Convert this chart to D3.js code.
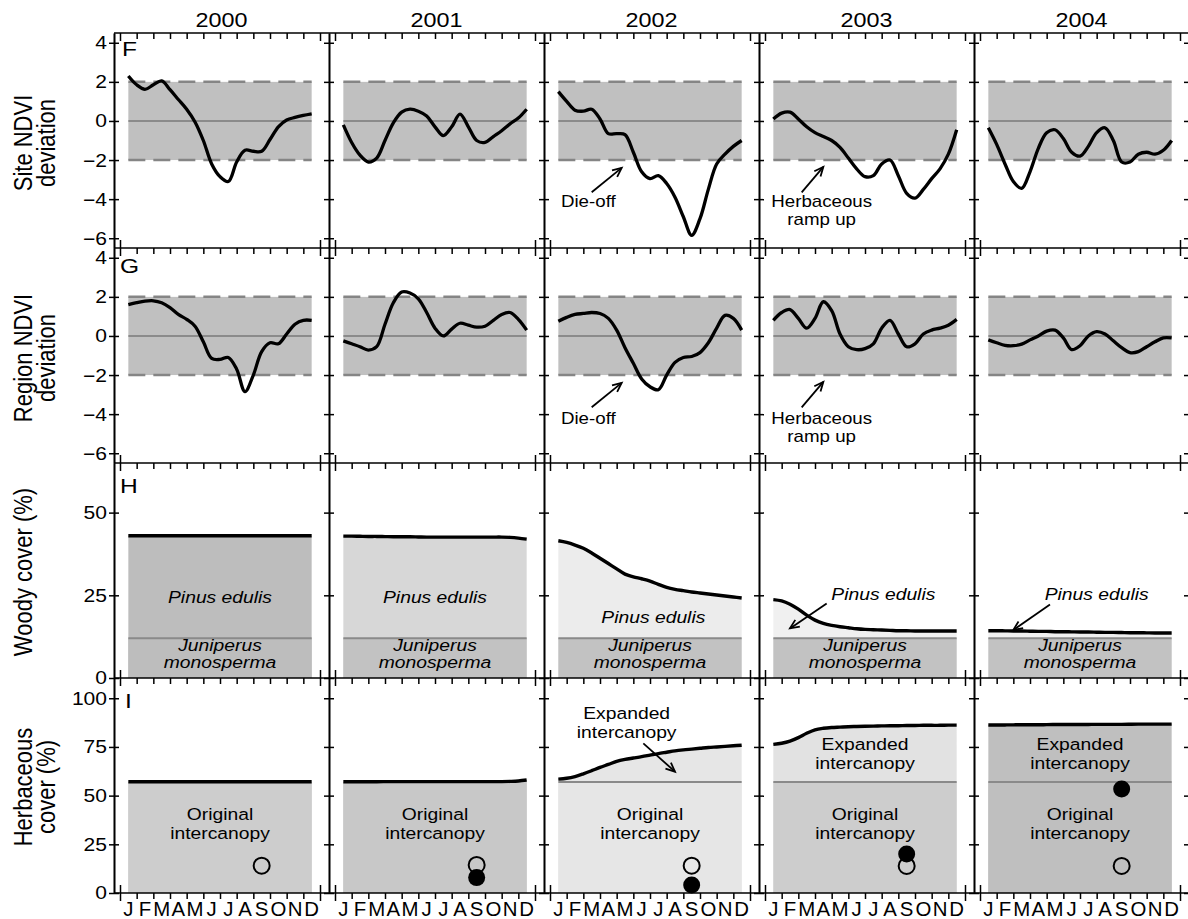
<!DOCTYPE html>
<html>
<head>
<meta charset="utf-8">
<script src="https://cdn.jsdelivr.net/npm/d3@7"></script>
<style>
  body { margin: 0; background: #fff; }
  text { font-family: "Liberation Sans", Arial, Helvetica, sans-serif; fill: #000; }
</style>
</head>
<body>
<svg id="chart" width="1188" height="919"></svg>
<script>
/*
  NDVI deviation and vegetation cover, 2000-2004
*/

var years = ["2000", "2001", "2002", "2003", "2004"],
    monthLetters = ["J", "F", "M", "A", "M", "J", "J", "A", "S", "O", "N", "D"],
    sampleMonths = [0.5, 1, 1.5, 2, 2.5, 3, 3.5, 4, 4.5, 5, 5.5, 6, 6.5, 7, 7.5, 8, 8.5, 9, 9.5, 10, 10.5, 11, 11.5],
    ndviTicks = [4, 2, 0, -2, -4, -6],
    woodyTicks = [0, 25, 50],
    herbTicks = [0, 25, 50, 75, 100];

// site NDVI deviation, one array per year (half-month samples)
var siteNdvi = [
  [2.3, 1.85, 1.62, 1.85, 2.05, 1.6, 1.1, 0.6, -0.05, -1.0, -2.2, -2.85, -3.1, -2.1, -1.5, -1.55, -1.55, -0.95, -0.3, 0.05, 0.18, 0.28, 0.36],
  [-0.2, -1.1, -1.75, -2.1, -1.9, -1.0, -0.1, 0.45, 0.6, 0.5, 0.25, -0.3, -0.75, -0.3, 0.35, -0.3, -1.0, -1.1, -0.8, -0.5, -0.15, 0.15, 0.6],
  [1.5, 1.0, 0.55, 0.5, 0.6, 0.1, -0.65, -0.65, -0.7, -1.6, -2.6, -2.95, -2.8, -3.2, -3.9, -4.9, -5.85, -5.0, -3.5, -2.2, -1.7, -1.3, -1.0],
  [0.1, 0.4, 0.45, 0.1, -0.3, -0.6, -0.8, -1.0, -1.35, -1.9, -2.45, -2.85, -2.8, -2.2, -2.0, -2.8, -3.7, -3.95, -3.5, -2.95, -2.45, -1.7, -0.45],
  [-0.35, -1.2, -2.2, -3.1, -3.45, -2.6, -1.4, -0.6, -0.45, -0.9, -1.6, -1.8, -1.3, -0.6, -0.35, -1.0, -2.1, -2.1, -1.7, -1.6, -1.7, -1.5, -1.0]
];

// regional NDVI deviation
var regionNdvi = [
  [1.6, 1.7, 1.78, 1.8, 1.7, 1.45, 1.1, 0.85, 0.5, -0.3, -1.15, -1.2, -1.1, -1.7, -2.85, -2.0, -0.8, -0.35, -0.4, 0.1, 0.6, 0.8, 0.8],
  [-0.25, -0.4, -0.55, -0.72, -0.55, 0.6, 1.7, 2.25, 2.2, 1.9, 1.2, 0.4, 0.0, 0.35, 0.65, 0.55, 0.45, 0.5, 0.8, 1.1, 1.2, 0.85, 0.3],
  [0.75, 0.95, 1.1, 1.15, 1.2, 1.15, 0.9, 0.3, -0.6, -1.4, -2.2, -2.6, -2.75, -2.0, -1.35, -1.1, -1.05, -0.85, -0.35, 0.4, 1.05, 0.9, 0.3],
  [0.8, 1.2, 1.35, 0.9, 0.4, 0.9, 1.75, 1.3, 0.1, -0.55, -0.7, -0.65, -0.4, 0.4, 0.8, 0.1, -0.55, -0.4, 0.1, 0.3, 0.4, 0.55, 0.85],
  [-0.2, -0.35, -0.48, -0.5, -0.42, -0.2, 0.0, 0.25, 0.3, -0.1, -0.7, -0.5, 0.0, 0.22, 0.1, -0.25, -0.6, -0.85, -0.8, -0.55, -0.3, -0.1, -0.1]
];

// woody cover (%): total (Pinus + Juniperus), Juniperus share is constant
var woodyTotal = [
  [43, 43, 43, 43, 43, 43, 43, 43, 43, 43, 43, 43, 43, 43, 43, 43, 43, 43, 43, 43, 43, 43, 43],
  [42.9, 42.9, 42.85, 42.8, 42.8, 42.75, 42.7, 42.7, 42.7, 42.65, 42.6, 42.6, 42.6, 42.6, 42.6, 42.6, 42.6, 42.6, 42.6, 42.6, 42.5, 42.3, 42.0],
  [41.5, 41.0, 40.2, 39.2, 37.8, 36.2, 34.6, 33.0, 31.4, 30.6, 30.0, 29.3, 28.3, 27.4, 26.8, 26.4, 26.0, 25.7, 25.4, 25.1, 24.8, 24.5, 24.2],
  [23.7, 23.3, 22.3, 20.8, 19.0, 17.5, 16.5, 15.9, 15.5, 15.2, 14.9, 14.7, 14.6, 14.5, 14.4, 14.3, 14.3, 14.2, 14.2, 14.2, 14.2, 14.2, 14.2],
  [14.3, 14.3, 14.25, 14.2, 14.2, 14.15, 14.1, 14.1, 14.0, 14.0, 13.95, 13.9, 13.9, 13.85, 13.8, 13.8, 13.75, 13.7, 13.7, 13.65, 13.6, 13.6, 13.6]
];
var juniperCover = 12;

// herbaceous cover (%): total intercanopy, original intercanopy level
var herbTotal = [
  [57.1, 57.1, 57.1, 57.1, 57.1, 57.1, 57.1, 57.1, 57.1, 57.1, 57.1, 57.1, 57.1, 57.1, 57.1, 57.1, 57.1, 57.1, 57.1, 57.1, 57.1, 57.1, 57.1],
  [57.1, 57.1, 57.1, 57.1, 57.15, 57.2, 57.2, 57.2, 57.2, 57.2, 57.2, 57.2, 57.2, 57.2, 57.2, 57.2, 57.2, 57.2, 57.2, 57.2, 57.3, 57.5, 58.0],
  [58.5, 58.9, 59.8, 61.2, 62.8, 64.5, 66.0, 67.6, 68.6, 69.3, 70.0, 70.8, 71.6, 72.3, 73.0, 73.5, 73.9, 74.3, 74.7, 75.0, 75.3, 75.6, 75.9],
  [76.3, 76.9, 78.0, 79.8, 82.0, 83.8, 84.6, 85.0, 85.2, 85.4, 85.5, 85.6, 85.7, 85.8, 85.9, 85.9, 86.0, 86.0, 86.1, 86.1, 86.1, 86.2, 86.2],
  [86.3, 86.3, 86.3, 86.35, 86.4, 86.4, 86.4, 86.45, 86.5, 86.5, 86.5, 86.5, 86.55, 86.6, 86.6, 86.6, 86.6, 86.65, 86.7, 86.7, 86.7, 86.7, 86.7]
];
var originalIntercanopy = 57;

// measured herbaceous cover (points, late August)
var sampleMonth = 8.5,
    openCover = [14, 14.4, 14, 13.9, 13.9],
    filledCover = [null, 7.9, 4.1, 20, 53.4];

// fills by year
var pinusFill = ["#bdbdbd", "#d7d7d7", "#ececec", "#f0f0f0", "#f0f0f0"],
    juniperFill = ["#bdbdbd", "#c2c2c2", "#c2c2c2", "#c2c2c2", "#c2c2c2"],
    originalFill = ["#cdcdcd", "#c8c8c8", "#e6e6e6", "#cdcdcd", "#bfbfbf"],
    expandedFill = ["#cdcdcd", "#c8c8c8", "#e6e6e6", "#e2e2e2", "#bfbfbf"];

var svg = d3.select("#chart"),
    plotLeft = 114,
    plotTop = 33,
    colW = 215,
    rowH = 215,
    SX = 1.17;

var xs = years.map(function(d, i){
  return d3.scaleLinear().domain([0, 12]).range([plotLeft + i * colW + 6, plotLeft + i * colW + 206]);
});

var yF = d3.scaleLinear().domain([-6.5, 4.5]).range([plotTop + rowH, plotTop]),
    yG = d3.scaleLinear().domain([-6.5, 4.5]).range([plotTop + 2 * rowH, plotTop + rowH]),
    yH = d3.scaleLinear().domain([0, 65]).range([plotTop + 3 * rowH, plotTop + 2 * rowH]),
    yI = d3.scaleLinear().domain([0, 110.4]).range([plotTop + 4 * rowH, plotTop + 3 * rowH]);

function label(g, x, y, str, size, opts){
  opts = opts || {};
  var tr = "translate(" + x + "," + y + ") scale(" + (opts.sx || SX) + ",1)" + (opts.rot ? " rotate(-90)" : "");
  return g.append("text")
    .attr("transform", tr)
    .attr("text-anchor", opts.anchor || "middle")
    .attr("dy", opts.dy || 0)
    .style("font-size", size + "px")
    .style("font-style", opts.italic ? "italic" : "normal")
    .text(str);
}

function arrow(g, x1, y1, x2, y2){
  var a = Math.atan2(y2 - y1, x2 - x1), len = 10, sp = 0.42;
  g.append("line").attr("x1", x1).attr("y1", y1).attr("x2", x2).attr("y2", y2)
    .attr("stroke", "#000").attr("stroke-width", 1.8);
  g.append("path")
    .attr("d", "M" + (x2 - len * Math.cos(a - sp)) + "," + (y2 - len * Math.sin(a - sp)) +
      "L" + x2 + "," + y2 +
      "L" + (x2 - len * Math.cos(a + sp)) + "," + (y2 - len * Math.sin(a + sp)))
    .attr("fill", "none").attr("stroke", "#000").attr("stroke-width", 1.8);
}

function curveLine(x, y){
  return d3.line()
    .x(function(d, k){ return x(sampleMonths[k]); })
    .y(function(d){ return y(d); })
    .curve(d3.curveCatmullRom);
}

function curveArea(x, y, base){
  return d3.area()
    .x(function(d, k){ return x(sampleMonths[k]); })
    .y0(y(base))
    .y1(function(d){ return y(d); })
    .curve(d3.curveCatmullRom);
}

var plot = svg.append("g");

// NDVI rows
[[siteNdvi, yF], [regionNdvi, yG]].forEach(function(row){
  var series = row[0], y = row[1];
  years.forEach(function(yr, i){
    var x = xs[i];
    plot.append("rect")
      .attr("x", x(0.5)).attr("width", x(11.5) - x(0.5))
      .attr("y", y(2)).attr("height", y(-2) - y(2))
      .attr("fill", "#c0c0c0");
    [2, -2].forEach(function(v){
      plot.append("line")
        .attr("x1", x(0.5)).attr("x2", x(11.5)).attr("y1", y(v)).attr("y2", y(v))
        .attr("stroke", "#858585").attr("stroke-width", 2.5).attr("stroke-dasharray", "17,8");
    });
    plot.append("line")
      .attr("x1", x(0.5)).attr("x2", x(11.5)).attr("y1", y(0)).attr("y2", y(0))
      .attr("stroke", "#7a7a7a").attr("stroke-width", 1.6);
    plot.append("path").datum(series[i])
      .attr("d", curveLine(x, y))
      .attr("fill", "none").attr("stroke", "#000").attr("stroke-width", 3.3).attr("stroke-linejoin", "round");
  });
});

// Woody cover row
years.forEach(function(yr, i){
  var x = xs[i];
  plot.append("path").datum(woodyTotal[i]).attr("d", curveArea(x, yH, 0)).attr("fill", pinusFill[i]);
  plot.append("rect")
    .attr("x", x(0.5)).attr("width", x(11.5) - x(0.5))
    .attr("y", yH(juniperCover)).attr("height", yH(0) - yH(juniperCover))
    .attr("fill", juniperFill[i]);
  plot.append("line")
    .attr("x1", x(0.5)).attr("x2", x(11.5)).attr("y1", yH(juniperCover)).attr("y2", yH(juniperCover))
    .attr("stroke", "#8a8a8a").attr("stroke-width", 2);
  plot.append("path").datum(woodyTotal[i])
    .attr("d", curveLine(x, yH))
    .attr("fill", "none").attr("stroke", "#000").attr("stroke-width", 3.4);
});

// Herbaceous cover row
years.forEach(function(yr, i){
  var x = xs[i];
  plot.append("path").datum(herbTotal[i]).attr("d", curveArea(x, yI, 0)).attr("fill", expandedFill[i]);
  plot.append("rect")
    .attr("x", x(0.5)).attr("width", x(11.5) - x(0.5))
    .attr("y", yI(originalIntercanopy)).attr("height", yI(0) - yI(originalIntercanopy))
    .attr("fill", originalFill[i]);
  if(i >= 2){
    plot.append("line")
      .attr("x1", x(0.5)).attr("x2", x(11.5)).attr("y1", yI(originalIntercanopy)).attr("y2", yI(originalIntercanopy))
      .attr("stroke", "#8a8a8a").attr("stroke-width", 2);
  }
  plot.append("path").datum(herbTotal[i])
    .attr("d", curveLine(x, yI))
    .attr("fill", "none").attr("stroke", "#000").attr("stroke-width", 3.4);
  plot.append("circle")
    .attr("cx", x(sampleMonth)).attr("cy", yI(openCover[i])).attr("r", 8)
    .attr("fill", "none").attr("stroke", "#000").attr("stroke-width", 2);
  if(filledCover[i] !== null){
    plot.append("circle")
      .attr("cx", x(sampleMonth)).attr("cy", yI(filledCover[i])).attr("r", 8.5)
      .attr("fill", "#000");
  }
});

// frame: vertical lines with crossing y ticks
var rows = [[yF, ndviTicks], [yG, ndviTicks], [yH, woodyTicks], [yI, herbTicks]];
d3.range(6).forEach(function(c){
  var xPos = plotLeft + c * colW;
  rows.forEach(function(r){
    svg.append("g").attr("class", "vaxis").attr("transform", "translate(" + xPos + ",0)")
      .call(d3.axisLeft(r[0]).tickValues(r[1]).tickSize(5).tickSizeOuter(0).tickFormat(""));
    svg.append("g").attr("class", "vaxis").attr("transform", "translate(" + xPos + ",0)")
      .call(d3.axisRight(r[0]).tickValues(r[1]).tickSize(5).tickSizeOuter(0).tickFormat(""));
  });
});

// frame: horizontal lines with month ticks
d3.range(5).forEach(function(r){
  var yPos = plotTop + r * rowH;
  svg.append("line")
    .attr("x1", plotLeft).attr("x2", plotLeft + 5 * colW).attr("y1", yPos).attr("y2", yPos)
    .attr("stroke", "#000").attr("stroke-width", 1.6);
  years.forEach(function(yr, i){
    svg.append("g").attr("class", "haxis").attr("transform", "translate(0," + yPos + ")")
      .call(d3.axisBottom(xs[i]).tickValues(d3.range(1, 12)).tickSize(6).tickSizeOuter(0).tickFormat(""));
    svg.append("g").attr("class", "haxis").attr("transform", "translate(0," + yPos + ")")
      .call(d3.axisBottom(xs[i]).tickValues([0, 12]).tickSize(8).tickSizeOuter(0).tickFormat(""));
    if(r > 0){
      svg.append("g").attr("class", "haxis").attr("transform", "translate(0," + yPos + ")")
        .call(d3.axisTop(xs[i]).tickValues([0, 12]).tickSize(8).tickSizeOuter(0).tickFormat(""));
    }
  });
});
svg.selectAll(".haxis .domain").remove();
svg.selectAll(".vaxis .domain").attr("stroke-width", 1.6);
svg.selectAll(".tick line").attr("stroke-width", 1.5);

// y tick labels
var tickLab = svg.append("g");
rows.forEach(function(r){
  r[1].forEach(function(v){
    label(tickLab, plotLeft - 7, r[0](v), v < 0 ? "\u2212" + Math.abs(v) : String(v), 18, {anchor: "end", dy: "0.36em"});
  });
});

// year titles
years.forEach(function(yr, i){
  label(svg, plotLeft + i * colW + colW / 2, 27, yr, 20);
});

// month letters
years.forEach(function(yr, i){
  monthLetters.forEach(function(m, k){
    label(svg, xs[i](k + 0.5), 916, m, 20, {sx: 1.02});
  });
});

// row titles
label(svg, 32, 143, "Site NDVI", 22, {rot: true});
label(svg, 55, 143, "deviation", 22, {rot: true});
label(svg, 32, 358, "Region NDVI", 22, {rot: true});
label(svg, 55, 358, "deviation", 22, {rot: true});
label(svg, 32, 572, "Woody cover (%)", 22, {rot: true});
label(svg, 32, 787, "Herbaceous", 22, {rot: true});
label(svg, 55, 787, "cover (%)", 22, {rot: true});

// panel letters
label(svg, 122, yF(3.3), "F", 21, {anchor: "start"});
label(svg, 120, yG(3.2), "G", 21, {anchor: "start"});
label(svg, 120, yH(56), "H", 21, {anchor: "start"});
label(svg, 125, yI(95), "I", 21, {anchor: "start"});

// annotations
var ann = svg.append("g");
[[yF, -4.4], [yG, -4.5]].forEach(function(r){
  var y = r[0], base = r[1];
  label(ann, xs[2](2.3), y(base), "Die-off", 16);
  arrow(ann, xs[2](2.5), y(-3.65), xs[2](4.3), y(-2.4));
  label(ann, xs[3](3.4), y(base), "Herbaceous", 16);
  label(ann, xs[3](3.4), y(base) + 18, "ramp up", 16);
  arrow(ann, xs[3](2.2), y(-3.65), xs[3](3.5), y(-2.35));
});

[0, 1].forEach(function(i){
  label(ann, xs[i](6), yH(22.6), "Pinus edulis", 16.5, {italic: true});
});
label(ann, xs[2](6.2), yH(16.6), "Pinus edulis", 16.5, {italic: true});
label(ann, xs[3](7.1), yH(23.5), "Pinus edulis", 16.5, {italic: true});
arrow(ann, xs[3](3.7), yH(22.5), xs[3](1.5), yH(15.0));
label(ann, xs[4](7.0), yH(23.5), "Pinus edulis", 16.5, {italic: true});
arrow(ann, xs[4](4.2), yH(22.2), xs[4](2.0), yH(14.5));
years.forEach(function(yr, i){
  label(ann, xs[i](6), yH(8.1), "Juniperus", 16.5, {italic: true});
  label(ann, xs[i](6), yH(3.0), "monosperma", 16.5, {italic: true});
  label(ann, xs[i](6), yI(37.5), "Original", 16.5);
  label(ann, xs[i](6), yI(27.8), "intercanopy", 16.5);
});
label(ann, xs[2](4.6), yI(89.5), "Expanded", 16.5);
label(ann, xs[2](4.6), yI(79.8), "intercanopy", 16.5);
arrow(ann, xs[2](5.6), yI(76.8), xs[2](7.5), yI(62.3));
[3, 4].forEach(function(i){
  label(ann, xs[i](6), yI(73.4), "Expanded", 16.5);
  label(ann, xs[i](6), yI(63.7), "intercanopy", 16.5);
});
</script>
</body>
</html>
